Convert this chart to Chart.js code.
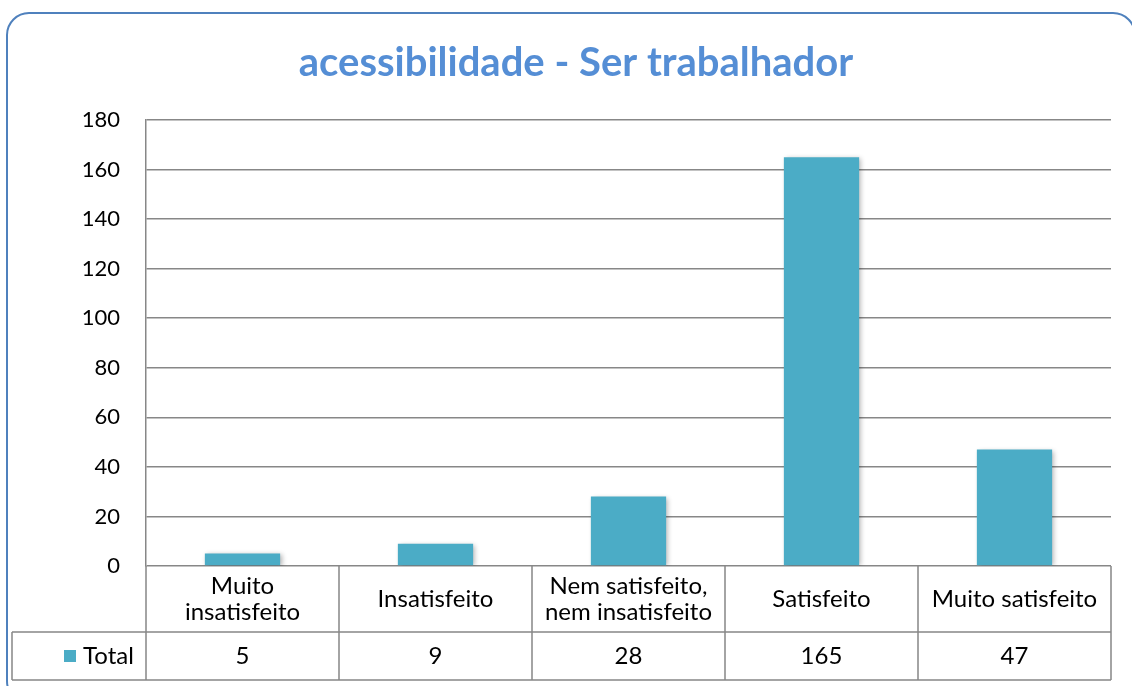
<!DOCTYPE html>
<html>
<head>
<meta charset="utf-8">
<script src="https://cdn.jsdelivr.net/npm/chart.js@4/dist/chart.umd.min.js"></script>
<style>
  html, body { margin: 0; padding: 0; background: #fff; }
  #wrap { position: relative; width: 1132px; height: 686px; }
</style>
</head>
<body>
<div id="wrap"><canvas id="chart"></canvas></div>
<script>
// Data
const categories = [
    ['Muito', 'insatisfeito'],
    ['Insatisfeito'],
    ['Nem satisfeito,', 'nem insatisfeito'],
    ['Satisfeito'],
    ['Muito satisfeito']
];
const totals = [5, 9, 28, 165, 47];
const yTicks = [0, 20, 40, 60, 80, 100, 120, 140, 160, 180];
const seriesName = 'Total';

const FONT = "'Lato', 'Liberation Sans', sans-serif";
const barColor = '#4bacc6';
const lineColor = '#878787';

// rounded frame behind the chart
const framePlugin = {
    id: 'frame',
    beforeDraw(chart) {
        const ctx = chart.ctx;
        ctx.save();
        ctx.strokeStyle = '#4f81bd';
        ctx.lineWidth = 2;
        ctx.beginPath();
        ctx.roundRect(7, 13, 1128, 690, 22);
        ctx.stroke();
        ctx.restore();
    }
};

// soft shadow on bars
const shadowPlugin = {
    id: 'barShadow',
    beforeDatasetsDraw(chart) {
        const ctx = chart.ctx;
        ctx.save();
        ctx.shadowColor = 'rgba(0,0,0,0.3)';
        ctx.shadowBlur = 5;
        ctx.shadowOffsetX = 2;
        ctx.shadowOffsetY = 1;
    },
    afterDatasetsDraw(chart) {
        chart.ctx.restore();
    }
};

// data table under the plot (Excel style)
const tablePlugin = {
    id: 'dataTable',
    afterDraw(chart) {
        const ctx = chart.ctx;
        const x = chart.scales.x;
        const area = chart.chartArea;
        const n = categories.length;
        const step = (x.getPixelForValue(1) - x.getPixelForValue(0));
        const left = x.getPixelForValue(0) - step / 2;
        const right = x.getPixelForValue(n - 1) + step / 2;
        const top = area.bottom;
        const rowSplit = top + 66;
        const bottom = top + 114;
        const tableLeft = 12;

        ctx.save();
        ctx.strokeStyle = lineColor;
        ctx.lineWidth = 1.5;
        ctx.beginPath();
        // horizontal lines
        ctx.moveTo(tableLeft, rowSplit); ctx.lineTo(right, rowSplit);
        ctx.moveTo(tableLeft, bottom); ctx.lineTo(right, bottom);
        // vertical lines
        ctx.moveTo(tableLeft, rowSplit); ctx.lineTo(tableLeft, bottom);
        for (let i = 0; i <= n; i++) {
            const px = left + step * i;
            ctx.moveTo(px, top); ctx.lineTo(px, bottom);
        }
        ctx.stroke();

        ctx.fillStyle = '#000';
        ctx.font = '24px ' + FONT;
        ctx.textAlign = 'center';
        ctx.textBaseline = 'middle';
        const lh = 26;
        categories.forEach((lines, i) => {
            const cx = x.getPixelForValue(i);
            const cy = (top + rowSplit) / 2;
            const y0 = cy - (lines.length - 1) * lh / 2;
            lines.forEach((t, j) => ctx.fillText(t, cx, y0 + j * lh));
            ctx.fillText(String(totals[i]), cx, (rowSplit + bottom) / 2);
        });

        // legend key + series name
        const ky = (rowSplit + bottom) / 2;
        ctx.fillStyle = barColor;
        ctx.fillRect(64, ky - 6, 12, 12);
        ctx.fillStyle = '#000';
        ctx.textAlign = 'left';
        ctx.fillText(seriesName, 83, ky);
        ctx.restore();
    }
};

new Chart(document.getElementById('chart').getContext('2d'), {
    type: 'bar',
    data: {
        labels: categories.map(l => l.join(' ')),
        datasets: [{
            label: seriesName,
            data: totals,
            backgroundColor: barColor,
            borderWidth: 0,
            barPercentage: 0.39,
            categoryPercentage: 1
        }]
    },
    options: {
        responsive: true,
        maintainAspectRatio: false,
        animation: false,
        layout: {
            padding: { left: 41, right: 21, top: 0, bottom: 0 }
        },
        plugins: {
            legend: { display: false },
            tooltip: { enabled: false },
            title: {
                display: true,
                text: 'acessibilidade - Ser trabalhador',
                color: '#558ed5',
                font: { family: FONT, size: 40, weight: 'bold', lineHeight: 1.2 },
                padding: { top: 39, bottom: 33 }
            }
        },
        scales: {
            x: {
                display: true,
                ticks: { display: false },
                grid: { display: false, drawTicks: false },
                border: { display: false },
                afterFit(scale) { scale.height = 120; }
            },
            y: {
                min: 0,
                max: 180,
                afterBuildTicks(scale) {
                    scale.ticks = yTicks.map(v => ({ value: v }));
                },
                afterFit(scale) { scale.width = 105; },
                ticks: {
                    color: '#000',
                    font: { family: FONT, size: 22 },
                    padding: 26
                },
                grid: { color: lineColor, lineWidth: 1.5, drawTicks: false },
                border: { display: true, color: lineColor, width: 1.5 }
            }
        }
    },
    plugins: [framePlugin, shadowPlugin, tablePlugin]
});
</script>
</body>
</html>
